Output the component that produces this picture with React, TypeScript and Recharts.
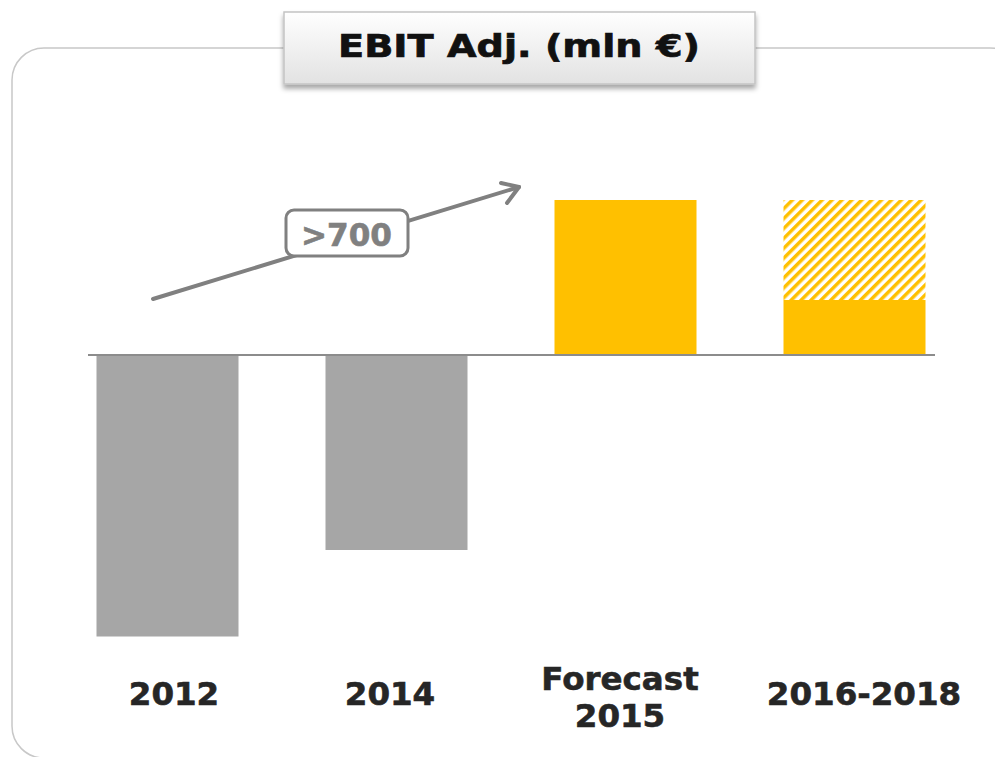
import { BarChart, Bar, XAxis, YAxis, ReferenceLine, Cell } from 'recharts'

const categories = ['2012', '2014', 'Forecast\n2015', '2016-2018']
const solidValues = [-563, -390, 310, 110]
const hatchedValues = [0, 0, 0, 200]
const isPast = [true, true, false, false]

const GRAY = '#a6a6a6'
const GOLD = '#ffc000'
const FONT = '"DejaVu Sans", Verdana, sans-serif'
// the source text boxes are not quite centred under the bars
const LABEL_NUDGE = [7, -6, -5, 10]

const data = categories.map((name, i) => ({
  name,
  solid: solidValues[i],
  hatched: hatchedValues[i],
}))

function YearTick({ x, y, payload, index }: any) {
  const lines = String(payload.value).split('\n')
  const first = lines.length > 1 ? 35 : 50
  const cx = x + (LABEL_NUDGE[index] || 0)
  return (
    <text
      x={cx}
      y={y}
      textAnchor="middle"
      fill="#262626"
      stroke="#262626"
      strokeWidth={0.6}
      fontFamily={FONT}
      fontWeight="bold"
      fontSize={32.5}
    >
      {lines.map((l, i) => (
        <tspan key={i} x={cx} y={y + first + i * 37}>
          {l}
        </tspan>
      ))}
    </text>
  )
}

export default function App() {
  return (
    <div style={{ position: 'relative', width: 995, height: 757, background: '#fff' }}>
      <style>{'body{margin:0}'}</style>
      {/* frame and title box */}
      <svg width={995} height={757} style={{ position: 'absolute', left: 0, top: 0 }}>
        <defs>
          <linearGradient id="titleGrad" x1="0" y1="0" x2="0" y2="1">
            <stop offset="0%" stopColor="#ffffff" />
            <stop offset="100%" stopColor="#e2e2e2" />
          </linearGradient>
          <filter id="shadow" x="-10%" y="-20%" width="120%" height="160%">
            <feDropShadow dx="0" dy="4" stdDeviation="2.5" floodColor="#000" floodOpacity="0.35" />
          </filter>
        </defs>
        <rect x={12} y={48} width={1010} height={710} rx={32} fill="none" stroke="#c8c8c8" strokeWidth={1.5} />
        <rect x={284} y={12} width={471} height={72} fill="url(#titleGrad)" stroke="#c4c4c4" strokeWidth={1.5} filter="url(#shadow)" />
        <text
          x={338}
          y={57}
          textLength={362}
          lengthAdjust="spacingAndGlyphs"
          fontFamily={FONT}
          fontWeight="bold"
          fontSize={32}
          fill="#111"
          stroke="#111"
          strokeWidth={0.7}
        >
          EBIT Adj. (mln €)
        </text>
      </svg>
      <div style={{ position: 'absolute', left: 0, top: 0 }}>
        <BarChart
          width={995}
          height={757}
          data={data}
          margin={{ top: 155, right: 60, bottom: 72, left: 88 }}
          barSize={142}
        >
          <defs>
            <pattern id="stripes" patternUnits="userSpaceOnUse" width={7} height={7} patternTransform="rotate(45)">
              <rect width={7} height={7} fill="#fff" />
              <rect width={3.5} height={7} fill={GOLD} />
            </pattern>
          </defs>
          <XAxis
            dataKey="name"
            axisLine={false}
            tickLine={false}
            tickSize={0}
            tickMargin={0}
            height={30}
            interval={0}
            padding={{ left: -35.5, right: -33.5 }}
            tick={<YearTick />}
          />
          <YAxis hide domain={[-600, 400]} />
          <Bar dataKey="solid" stackId="a" isAnimationActive={false}>
            {data.map((d, i) => (
              <Cell key={d.name} fill={isPast[i] ? GRAY : GOLD} />
            ))}
          </Bar>
          <Bar dataKey="hatched" stackId="a" fill="url(#stripes)" isAnimationActive={false} />
          <ReferenceLine y={0} stroke="#8c8c8c" strokeWidth={2} />
        </BarChart>
      </div>
      {/* growth arrow annotation */}
      <svg width={995} height={757} style={{ position: 'absolute', left: 0, top: 0, pointerEvents: 'none' }}>
        <g stroke="#808080" strokeWidth={4} fill="none" strokeLinecap="round" strokeLinejoin="round">
          <line x1={153} y1={299} x2={519} y2={187} />
          <polyline points="501,183 519,187 507,203" />
        </g>
        <rect x={286} y={210} width={122} height={46} rx={8} fill="#fff" stroke="#808080" strokeWidth={3} />
        <text
          x={301}
          y={246}
          textLength={91}
          lengthAdjust="spacingAndGlyphs"
          fontFamily={FONT}
          fontWeight="bold"
          fontSize={32}
          fill="#808080"
          stroke="#808080"
          strokeWidth={0.6}
        >
          &gt;700
        </text>
      </svg>
    </div>
  )
}
